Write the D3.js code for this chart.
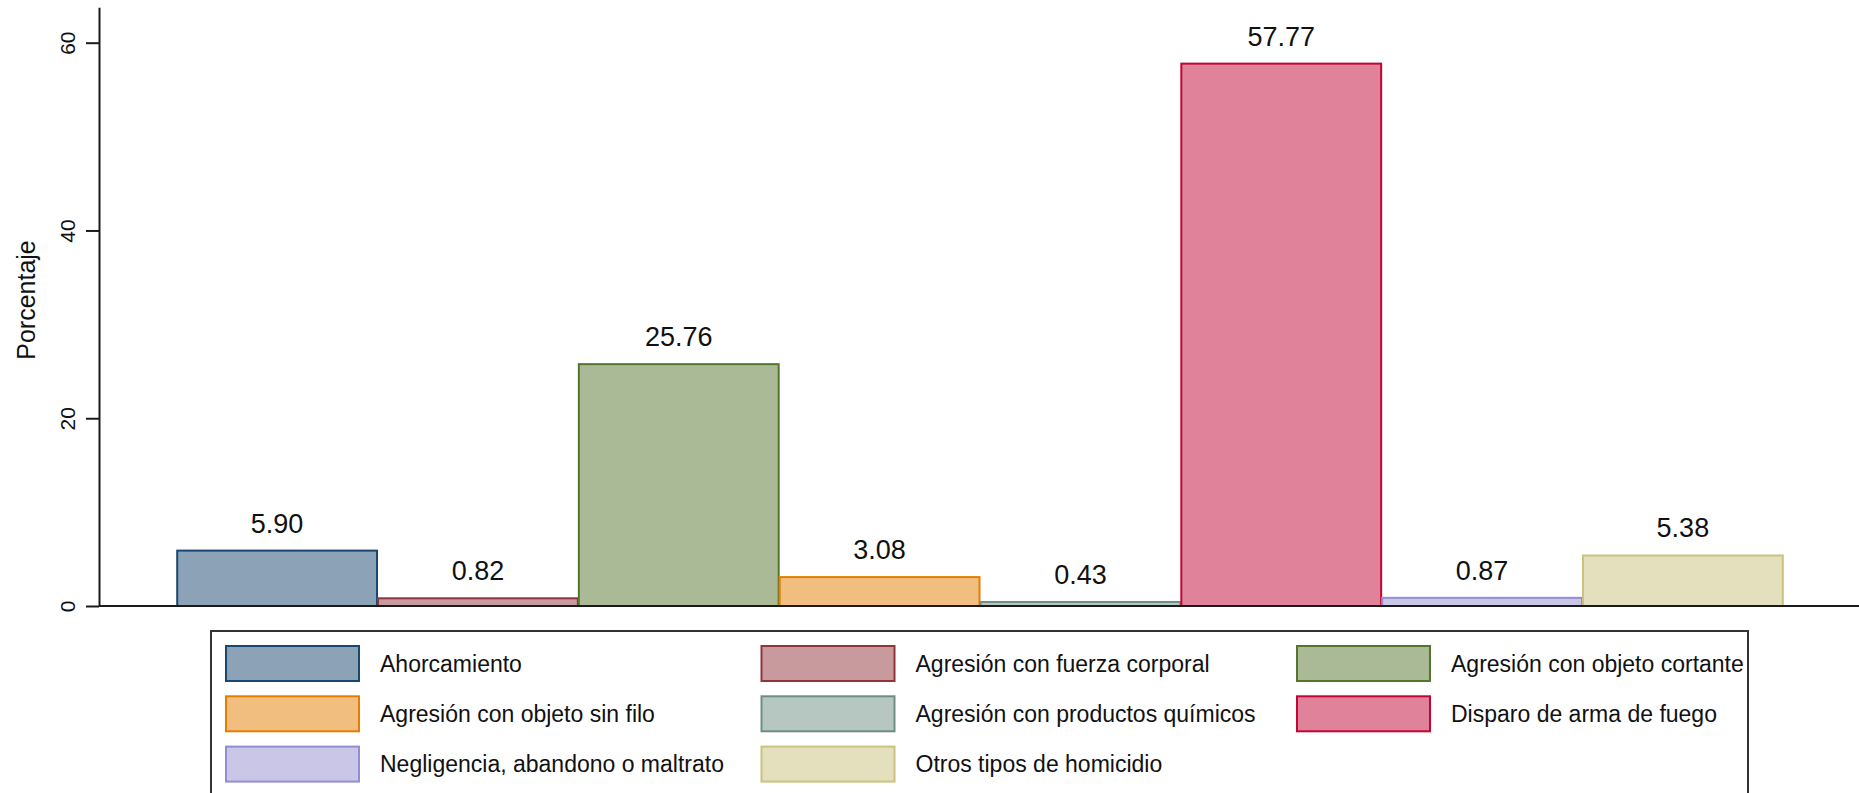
<!DOCTYPE html>
<html lang="es">
<head>
<meta charset="utf-8">
<title>Porcentaje por tipo de homicidio</title>
<script src="https://cdn.jsdelivr.net/npm/d3@7"></script>
<style>
  html, body { margin: 0; padding: 0; background: #ffffff; overflow: hidden; }
  svg { display: block; }
  text { font-family: "Liberation Sans", Arial, Helvetica, sans-serif; fill: #111; }
</style>
</head>
<body>
<div id="chart"></div>
<script>
// Categorías de homicidio y su porcentaje
const categories = [
  "Ahorcamiento",
  "Agresión con fuerza corporal",
  "Agresión con objeto cortante",
  "Agresión con objeto sin filo",
  "Agresión con productos químicos",
  "Disparo de arma de fuego",
  "Negligencia, abandono o maltrato",
  "Otros tipos de homicidio"
];
const values = [5.90, 0.82, 25.76, 3.08, 0.43, 57.77, 0.87, 5.38];
const yTicks = [0, 20, 40, 60];
const yTitle = "Porcentaje";

// Colores de relleno (intensidad 50 %) y de contorno
const fillColors   = ["#8ca3b7", "#c89a9d", "#aaba97", "#f1be7f", "#b6c6c1", "#e08299", "#c9c6e8", "#e4e0be"];
const strokeColors = ["#1a476f", "#90353b", "#55752f", "#e37e00", "#6e8e84", "#c10534", "#938dd2", "#cac27e"];

const W = 1859, H = 793;
const svg = d3.select("#chart").append("svg").attr("width", W).attr("height", H);

const axisX = 99;
const x = d3.scaleBand().domain(categories).range([176.7, 1783.3]).padding(0);
const y = d3.scaleLinear().domain([0, 63.77]).range([606, 7.3]);

// Barras
svg.append("g").selectAll("rect")
  .data(values)
  .join("rect")
  .attr("x", (d, i) => x(categories[i]) + 0.5)
  .attr("y", d => y(d))
  .attr("width", x.bandwidth() - 1)
  .attr("height", d => y(0) - y(d))
  .attr("fill", (d, i) => fillColors[i])
  .attr("stroke", (d, i) => strokeColors[i])
  .attr("stroke-width", 2);

// Etiquetas de valor sobre cada barra
svg.append("g").selectAll("text")
  .data(values)
  .join("text")
  .attr("x", (d, i) => x(categories[i]) + x.bandwidth() / 2)
  .attr("y", d => y(d) - 18)
  .attr("text-anchor", "middle")
  .attr("font-size", 27)
  .text(d => d3.format(".2f")(d));

// Eje Y
const yAxis = svg.append("g")
  .attr("transform", `translate(${axisX},0)`)
  .call(d3.axisLeft(y).tickValues(yTicks).tickSize(13).tickSizeOuter(0).tickFormat(d3.format("d")));
yAxis.attr("font-family", null);
yAxis.select(".domain").attr("stroke", "#1a1a1a").attr("stroke-width", 2);
yAxis.selectAll(".tick line").attr("stroke", "#1a1a1a").attr("stroke-width", 2);
yAxis.selectAll(".tick text")
  .attr("font-size", 21)
  .attr("fill", "#222")
  .attr("x", 0).attr("y", 0).attr("dy", null)
  .attr("text-anchor", "middle")
  .attr("dominant-baseline", "central")
  .attr("transform", "translate(-32,0) rotate(-90)");

// Línea base (eje X)
svg.append("line")
  .attr("x1", axisX).attr("x2", W)
  .attr("y1", y(0)).attr("y2", y(0))
  .attr("stroke", "#1a1a1a").attr("stroke-width", 2);

// Título del eje Y
svg.append("text")
  .attr("transform", `translate(35,300) rotate(-90)`)
  .attr("text-anchor", "middle")
  .attr("font-size", 25)
  .text(yTitle);

// Leyenda (el recuadro continúa por debajo del borde inferior)
const legend = svg.append("g");
legend.append("rect")
  .attr("x", 211).attr("y", 631)
  .attr("width", 1748 - 211).attr("height", 200)
  .attr("fill", "#fff").attr("stroke", "#333").attr("stroke-width", 2);

const colStep = 535.5, rowStep = 50.3;
const items = legend.selectAll("g.item")
  .data(categories)
  .join("g")
  .attr("class", "item")
  .attr("transform", (d, i) => `translate(${226 + (i % 3) * colStep},${646 + Math.floor(i / 3) * rowStep})`);
items.append("rect")
  .attr("width", 133).attr("height", 35)
  .attr("fill", (d, i) => fillColors[i])
  .attr("stroke", (d, i) => strokeColors[i])
  .attr("stroke-width", 2);
items.append("text")
  .attr("x", 154).attr("y", 17.5)
  .attr("dominant-baseline", "central")
  .attr("font-size", 23)
  .text(d => d);
</script>
</body>
</html>
